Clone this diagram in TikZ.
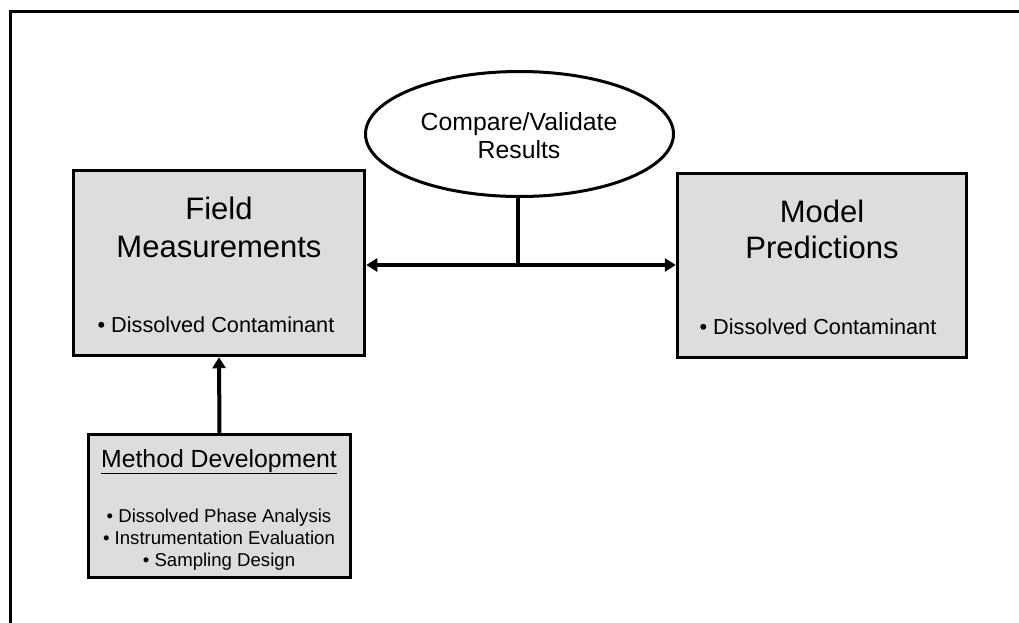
\documentclass[tikz,border=0pt]{standalone}
\usepackage{fontspec}
\setmainfont{Liberation Sans}
\usetikzlibrary{arrows.meta,shapes.geometric}
\definecolor{boxgray}{HTML}{DDDDDD}
\begin{document}
\begin{tikzpicture}[x=1pt,y=-1pt,
  panel/.style={draw=black,line width=3.5pt,fill=boxgray,inner sep=0pt},
  oval/.style={ellipse,draw=black,line width=3pt,fill=white,inner sep=0pt},
  link/.style={line width=4pt,-{Triangle[length=11pt,width=13pt]}},
  twoway/.style={line width=4pt,{Triangle[length=11pt,width=13pt]}-{Triangle[length=11pt,width=13pt]}},
  head/.style={anchor=base,font=\fontsize{31}{35}\selectfont},
  sub/.style={anchor=base,font=\fontsize{21.7}{25}\selectfont},
  mid/.style={anchor=base,font=\fontsize{24.8}{28}\selectfont},
  small/.style={anchor=base,font=\fontsize{18.6}{22}\selectfont}]
\useasboundingbox (0,0) rectangle (1019,623);
\clip (0,0) rectangle (1019,623);

% outer frame (only its top and left edges fall on the page)
\draw[line width=3pt] (10.5,660) -- (10.5,12) -- (1060,12);

% boxes
\node[panel,minimum width=291pt,minimum height=185pt] (field) at (219,263) {};
\node[panel,minimum width=289pt,minimum height=184pt] (model) at (822,265.5) {};
\node[panel,minimum width=262pt,minimum height=143pt] (method) at (219.5,506) {};
\node[oval,minimum width=308pt,minimum height=125pt] (cmp) at (519.5,134) {};

% box texts
\node[head] (fieldA) at (219,219) {Field};
\node[head] (fieldB) at (219,257) {Measurements};
\node[sub]  (fieldC) at (216,332) {• Dissolved Contaminant};

\node[head] (modelA) at (822,222) {Model};
\node[head] (modelB) at (822,258) {Predictions};
\node[sub]  (modelC) at (818,334) {• Dissolved Contaminant};

\node[mid] (methodA) at (219,467) {\underline{Method Development}};
\node[small] (methodB) at (219,522) {• Dissolved Phase Analysis};
\node[small] (methodC) at (219,544) {• Instrumentation Evaluation};
\node[small] (methodD) at (219,566) {• Sampling Design};

\node[mid] (cmpA) at (519,130) {Compare/Validate};
\node[mid] (cmpB) at (519,158) {Results};

% connectors
\coordinate (junction) at (518,265);
\draw[line width=3.5pt] (cmp.south -| junction) -- ([yshift=-2pt]junction);
\draw[twoway] (field.east |- junction) -- (model.west |- junction);
\draw[link] (method.north) -- (field.south);
\end{tikzpicture}
\end{document}
